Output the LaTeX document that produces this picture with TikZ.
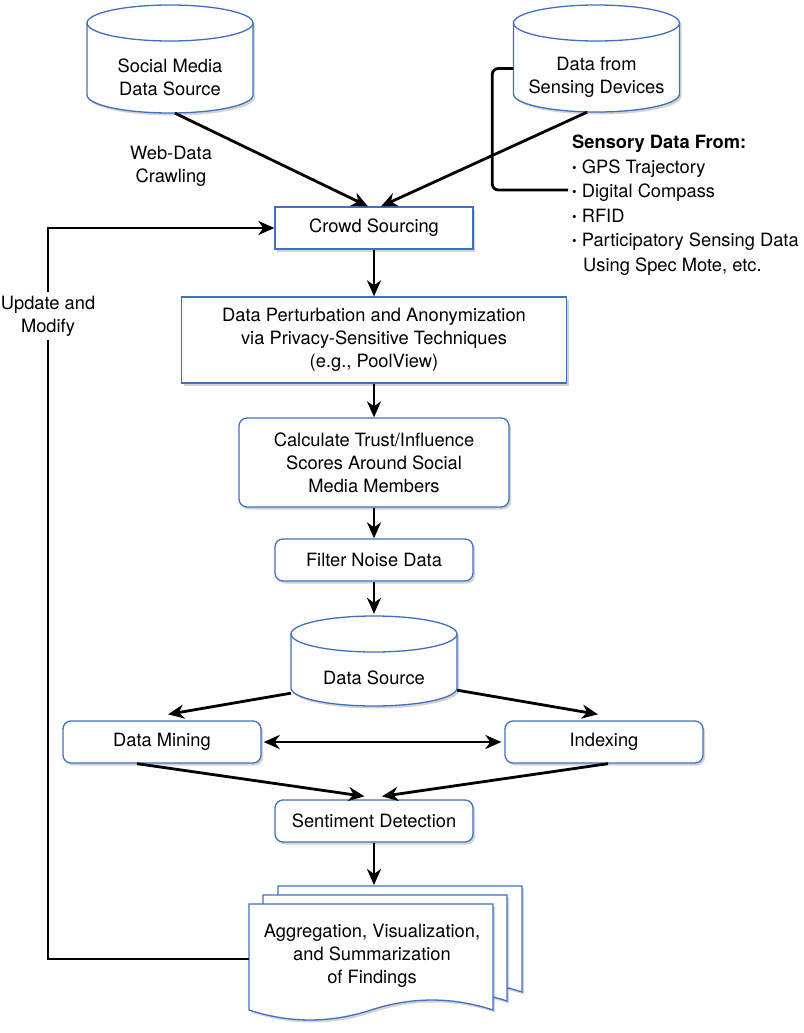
\documentclass[tikz,border=0pt]{standalone}
\usepackage{fontspec}
\setmainfont{TeX Gyre Heros}
\usetikzlibrary{arrows.meta,shadows}
\definecolor{bord}{RGB}{64,112,192}
\newcommand\dfs{\fontsize{18.3}{23}\selectfont}
\newcommand\smallbul{\raisebox{1.2pt}{\fontsize{13}{13}\selectfont\textbullet}}
\tikzset{
 shad/.style={drop shadow={shadow xshift=2pt,shadow yshift=-2.5pt,opacity=0.28,fill=black!60}},
 box/.style={draw=bord,line width=1.3pt,fill=white,shad,align=center,inner sep=0pt,font=\dfs},
 rbox/.style={box,rounded corners=8pt},
 lbl/.style={align=center,font=\dfs,inner sep=0pt},
 tip/.tip={Stealth[length=16pt,width=14pt,inset=5pt]},
 conn/.style={line width=2.8pt,-tip},
 dconn/.style={line width=2.8pt,tip-tip},
 plain/.style={line width=2.8pt},
 ghost/.style={inner sep=0pt,draw=none},
}
\newcommand\cylshape[3]{%
 \path[draw=bord,line width=1.3pt,fill=white,shad] (#1-83,#2+18) -- (#1-83,#3-18)
   arc[start angle=180,end angle=360,x radius=83pt,y radius=18pt] -- (#1+83,#2+18)
   arc[start angle=0,end angle=180,x radius=83pt,y radius=18pt] -- cycle;
 \draw[bord,line width=1.3pt] (#1-83,#2+18) arc[start angle=180,end angle=360,x radius=83pt,y radius=18pt];}
\newcommand\docsheet[2]{%
 \begin{scope}[shift={(#1,#2)}]
 \path[draw=bord,line width=1.3pt,fill=white,shad] (249,904) -- (493,904) -- (493,1010)
   .. controls (452.3,996.7) and (411.7,996.7) .. (371,1010)
   .. controls (330.3,1023.3) and (289.7,1023.3) .. (249,1010) -- cycle;
 \end{scope}}
\begin{document}
\begin{tikzpicture}[x=1pt,y=-1pt]
\useasboundingbox (0,0) rectangle (803,1033);
% cylinders
\cylshape{170}{5}{113}
\node[ghost,minimum width=166pt,minimum height=108pt] (sm) at (170,59) {};
\node[lbl] (smt) at (170,77) {Social Media\\Data Source};
\cylshape{596.5}{5}{112}
\node[ghost,minimum width=166pt,minimum height=107pt] (sd) at (596.5,58.5) {};
\node[lbl] (sdt) at (596.5,77) {Data from\\Sensing Devices};
% labels
\node[lbl] (wdc) at (171,166) {Web-Data\\Crawling};
\node[lbl,align=left,anchor=north west,font=\fontsize{18.3}{24.5}\selectfont] (sl) at (572,135) {%
 {\bfseries Sensory Data From:}\\
 \smallbul\ GPS Trajectory\\
 \smallbul\ Digital Compass\\
 \smallbul\ RFID\\
 \smallbul\ Participatory Sensing Data\\
 \hspace*{11pt}Using Spec Mote, etc.};
\coordinate (sdend) at (568,190);
\node[lbl,inner sep=4pt] (um) at (48,316) {Update and\\Modify};
% boxes
\node[box,minimum width=198pt,minimum height=42pt] (cs) at (374,228) {Crowd Sourcing};
\node[box,minimum width=385pt,minimum height=86pt] (dp) at (374,340) {Data Perturbation and Anonymization\\via Privacy-Sensitive Techniques\\(e.g., PoolView)};
\node[rbox,minimum width=270pt,minimum height=89pt] (ct) at (374,462.5) {Calculate Trust/Influence\\Scores Around Social\\Media Members};
\node[rbox,minimum width=198pt,minimum height=42pt] (fn) at (374,560) {Filter Noise Data};
\cylshape{374}{616}{706}
\node[ghost,minimum width=166pt,minimum height=90pt] (ds) at (374,661) {};
\node[lbl] (dst) at (374,678) {Data Source};
\node[rbox,minimum width=198pt,minimum height=42pt] (dm) at (162,742) {Data Mining};
\node[rbox,minimum width=198pt,minimum height=42pt] (ix) at (604,742) {Indexing};
\node[rbox,minimum width=198pt,minimum height=42pt] (se) at (374,821) {Sentiment Detection};
% documents
\docsheet{29}{-18}
\docsheet{14}{-9}
\docsheet{0}{0}
\node[ghost,minimum width=244pt,minimum height=106pt] (doc) at (371,957) {};
\node[lbl] (doct) at (372,956) {Aggregation, Visualization,\\and Summarization\\of Findings};
\coordinate (dtop) at (374,885);
% connectors
\draw[conn] ([xshift=5pt]sm.south) -- ([xshift=-6pt]cs.north);
\draw[conn] ([xshift=-9.5pt]sd.south) -- ([xshift=7pt]cs.north);
\draw[plain,rounded corners=6pt] ([yshift=-10pt]sd.west) -- ++(-21,0) |- (sdend);
\draw[conn] (cs.south) -- (dp.north);
\draw[conn] (dp.south) -- (ct.north);
\draw[conn] (ct.south) -- (fn.north);
\draw[conn] (fn.south) -- ([yshift=2pt]ds.north);
\draw[conn] ([yshift=13pt]ds.south west) -- ([xshift=6pt,yshift=6pt]dm.north);
\draw[conn] ([yshift=16pt]ds.south east) -- ([xshift=-6pt,yshift=6pt]ix.north);
\draw[dconn] ([xshift=2pt]dm.east) -- ([xshift=-3pt]ix.west);
\draw[conn] ([xshift=-25pt]dm.south) -- ([xshift=-9.5pt,yshift=3pt]se.north);
\draw[conn] ([xshift=4pt]ix.south) -- ([xshift=8pt,yshift=3pt]se.north);
\draw[conn] (se.south) -- (dtop);
\draw[plain] ([yshift=-2pt]doc.west) -| (um.south);
\draw[conn] (um.north) |- (cs.west);
\end{tikzpicture}
\end{document}
